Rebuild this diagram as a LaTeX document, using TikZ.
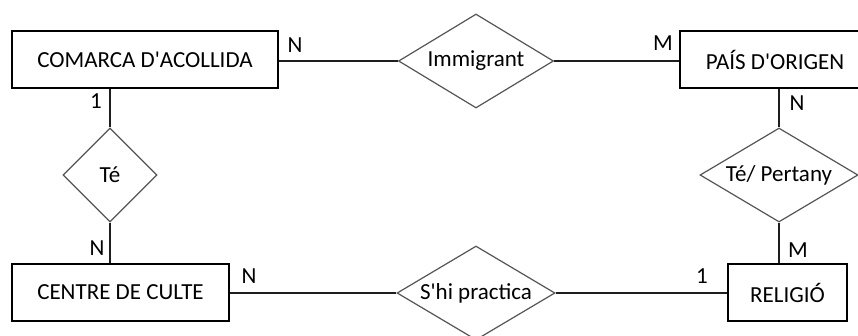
\documentclass[tikz,border=0pt]{standalone}
\usepackage{fontspec}
\setmainfont{Carlito}
\usetikzlibrary{shapes.geometric}
\definecolor{dgray}{RGB}{85,85,85}
\definecolor{lcol}{RGB}{30,30,30}
\tikzset{
  entity/.style={draw=black, line width=1.3pt, rectangle, inner sep=0pt, font=\fontsize{23}{27}\selectfont},
  rel/.style={draw=dgray, line width=1.2pt, diamond, inner sep=0pt, minimum width=158pt, minimum height=94pt, label={[font=\fontsize{23}{27}\selectfont]center:#1}},
  card/.style={inner sep=0pt, font=\fontsize{23}{27}\selectfont},
  conn/.style={draw=lcol, line width=1.3pt}
}
\begin{document}
\begin{tikzpicture}[x=1pt,y=-1pt]
\useasboundingbox (0,0) rectangle (858,335);
\fill[white] (0,0) rectangle (858,335);
% entities
\node[entity, minimum width=266pt, minimum height=57pt] (com) at (145,59.5) {COMARCA D\textquotesingle ACOLLIDA};
\node[entity, minimum width=190pt, minimum height=57pt] (pais) at (775,59.5) {PAÍS D\textquotesingle ORIGEN};
\node[entity, minimum width=217pt, minimum height=57pt] (cen) at (120.5,292.5) {CENTRE DE CULTE};
\node[entity, minimum width=119pt, minimum height=57pt] (rel) at (787.5,292.5) {RELIGIÓ};
% relationships
\node[rel={Immigrant}, minimum width=155pt] (imm) at (476,61) {};
\node[rel={Té}, minimum width=94pt] (te) at (110,175) {};
\node[rel={Té/ Pertany}] (tp) at (779,175) {};
\node[rel={S\textquotesingle hi practica}] (shi) at (476,293) {};
% connectors
\draw[conn] (com.east |- imm.west) -- (imm.west);
\draw[conn] (imm.east) -- (pais.west |- imm.east);
\draw[conn] (te.north |- com.south) -- (te.north);
\draw[conn] (te.south) -- (te.south |- cen.north);
\draw[conn] (tp.north |- pais.south) -- (tp.north);
\draw[conn] (tp.south) -- (tp.south |- rel.north);
\draw[conn] (cen.east |- shi.west) -- (shi.west);
\draw[conn] (shi.east) -- (rel.west |- shi.east);
% cardinalities
\node[card] (c1) at (295,45) {N};
\node[card] (c2) at (663,43) {M};
\node[card] (c3) at (96,101) {1};
\node[card] (c4) at (797,103) {N};
\node[card] (c5) at (97,248) {N};
\node[card] (c6) at (249,276) {N};
\node[card] (c7) at (798,250) {M};
\node[card] (c8) at (702,276) {1};
\end{tikzpicture}
\end{document}
